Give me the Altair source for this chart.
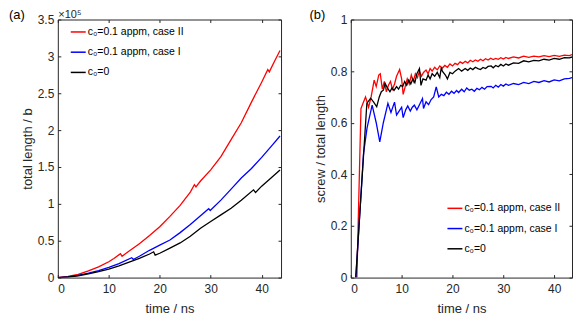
import altair as alt
import pandas as pd

# ---------------- data ----------------
series_names = ["c₀=0.1 appm, case II", "c₀=0.1 appm, case I", "c₀=0"]
series_colors = ["#ff0000", "#0000ff", "#000000"]

# Panel (a): total length / b  (in units of 1e5)
a_red_t = [0, 2, 4, 6, 8, 10, 11, 12.3, 12.6, 14, 16, 18, 20, 22, 24, 26, 26.8, 27.1,
           28, 30, 32, 34, 36, 38, 40, 41.2, 41.5, 42.5, 43.6]
a_red_v = [0, 0.015, 0.045, 0.09, 0.145, 0.215, 0.26, 0.325, 0.29, 0.36, 0.46, 0.57, 0.69,
           0.83, 0.98, 1.16, 1.26, 1.23, 1.31, 1.46, 1.64, 1.87, 2.10, 2.38, 2.65, 2.82,
           2.79, 2.93, 3.08]
a_blue_t = [0, 2, 4, 6, 8, 10, 12, 14.5, 14.8, 16, 18, 20, 22, 24, 26, 28, 29.6, 29.9,
            32, 34, 36, 38, 40, 42, 43.6]
a_blue_v = [0, 0.01, 0.03, 0.06, 0.095, 0.14, 0.19, 0.27, 0.245, 0.29, 0.37, 0.44, 0.51,
            0.61, 0.72, 0.84, 0.935, 0.91, 1.05, 1.20, 1.35, 1.48, 1.63, 1.79, 1.92]
a_black_t = [0, 2, 4, 6, 8, 10, 12, 14, 16, 18, 18.8, 19.1, 20, 22, 24, 26, 28, 30, 32,
             34, 36, 38.4, 38.8, 40, 42, 43.6]
a_black_v = [0, 0.008, 0.025, 0.05, 0.08, 0.115, 0.16, 0.21, 0.26, 0.32, 0.35, 0.305,
             0.33, 0.40, 0.47, 0.56, 0.67, 0.76, 0.85, 0.94, 1.05, 1.19, 1.155, 1.24,
             1.36, 1.46]

# Panel (b): screw / total length
b_red_t = [1.2, 2.0, 2.5, 2.9, 3.5, 4.0, 4.6, 5.0, 5.5, 5.8, 6.2, 6.6, 7.0, 7.4, 7.8, 8.2,
           8.6, 9.0, 9.6, 10.0, 10.3, 10.7, 11.1, 11.5, 11.9, 12.3, 12.7, 13.1, 13.5, 13.9,
           14.3, 14.8, 15.2, 15.6, 16.0, 16.5, 17.0, 17.5, 18.0, 18.5, 19.0, 19.5, 20.0,
           20.5, 21.0, 21.5, 22.0, 22.5, 23.0, 23.5, 24.0, 24.5, 25.0, 25.5, 26.0, 26.5,
           27.0, 27.5, 28.0, 28.5, 29.0, 29.5, 30.0, 30.5, 31.0, 32.0, 33.0, 34.0, 35.0,
           36.0, 37.0, 38.0, 39.0, 40.0, 41.0, 42.0, 43.0, 43.5]
b_red_v = [0.0, 0.655, 0.68, 0.70, 0.66, 0.70, 0.765, 0.74, 0.785, 0.79, 0.73, 0.76, 0.72,
           0.745, 0.76, 0.73, 0.75, 0.78, 0.806, 0.77, 0.71, 0.74, 0.77, 0.75, 0.785, 0.76,
           0.79, 0.775, 0.80, 0.78, 0.795, 0.804, 0.79, 0.81, 0.80, 0.815, 0.805, 0.82,
           0.812, 0.822, 0.815, 0.828, 0.82, 0.83, 0.825, 0.836, 0.83, 0.838, 0.832, 0.842,
           0.836, 0.843, 0.838, 0.846, 0.84, 0.848, 0.843, 0.85, 0.845, 0.849, 0.846, 0.852,
           0.847, 0.853, 0.849, 0.855, 0.851, 0.858, 0.853, 0.858, 0.855, 0.86, 0.856,
           0.861, 0.857, 0.862, 0.86, 0.864]
b_blue_t = [1.0, 2.5, 3.2, 4.2, 5.0, 5.7, 6.4, 7.0, 7.3, 7.9, 8.6, 9.0, 9.5, 10.0, 10.3,
            10.8, 11.2, 11.7, 12.1, 12.5, 13.0, 13.5, 14.1, 14.3, 14.8, 15.3, 15.8, 16.3,
            16.8, 17.3, 17.8, 18.3, 18.8, 19.3, 19.8, 20.3, 20.8, 21.2, 21.8, 22.3, 22.8,
            23.3, 23.8, 24.3, 24.8, 25.3, 25.8, 26.3, 26.8, 27.6, 28.0, 28.5, 29.0, 29.5,
            30.0, 30.5, 31.0, 32.0, 33.0, 34.0, 35.0, 36.0, 37.0, 38.0, 39.0, 40.0, 41.0,
            42.0, 43.0, 43.5]
b_blue_v = [0.0, 0.48, 0.58, 0.668, 0.60, 0.526, 0.60, 0.65, 0.675, 0.64, 0.68, 0.63,
            0.645, 0.66, 0.62, 0.65, 0.665, 0.645, 0.66, 0.668, 0.65, 0.67, 0.694, 0.655,
            0.681, 0.67, 0.69, 0.70, 0.739, 0.70, 0.71, 0.705, 0.718, 0.71, 0.722, 0.714,
            0.725, 0.717, 0.73, 0.72, 0.735, 0.726, 0.73, 0.722, 0.733, 0.728, 0.737, 0.73,
            0.74, 0.741, 0.735, 0.745, 0.738, 0.748, 0.742, 0.75, 0.745, 0.752, 0.748,
            0.756, 0.752, 0.76, 0.756, 0.763, 0.758, 0.766, 0.762, 0.77, 0.772, 0.775]
b_black_t = [0.97, 3.16, 3.9, 4.5, 5.1, 5.6, 6.0, 6.4, 6.75, 7.2, 7.7, 8.1, 8.5, 9.0, 9.4,
             9.8, 10.2, 10.6, 11.0, 11.4, 11.8, 12.2, 12.6, 13.0, 13.5, 13.8, 14.2, 14.8,
             15.2, 15.6, 16.0, 16.5, 17.0, 17.5, 17.8, 18.0, 18.6, 19.0, 19.5, 20.0, 20.5,
             21.2, 21.8, 22.5, 23.0, 23.5, 24.0, 24.5, 25.0, 25.5, 26.0, 26.5, 27.0, 27.6,
             28.0, 28.5, 29.0, 29.5, 30.0, 30.5, 31.0, 32.0, 33.0, 34.0, 35.0, 36.0, 37.0,
             38.0, 39.0, 40.0, 41.0, 42.0, 43.0, 43.5]
b_black_v = [0.0, 0.675, 0.695, 0.68, 0.662, 0.70, 0.72, 0.726, 0.752, 0.735, 0.72, 0.735,
             0.725, 0.74, 0.73, 0.745, 0.74, 0.76, 0.745, 0.765, 0.75, 0.77, 0.755, 0.79,
             0.81, 0.745, 0.77, 0.765, 0.785, 0.77, 0.79, 0.78, 0.795, 0.775, 0.815, 0.80,
             0.785, 0.77, 0.795, 0.79, 0.80, 0.81, 0.80, 0.81, 0.803, 0.812, 0.806, 0.815,
             0.81, 0.806, 0.814, 0.81, 0.818, 0.82, 0.813, 0.822, 0.817, 0.826, 0.82, 0.828,
             0.823, 0.832, 0.83, 0.84, 0.836, 0.842, 0.84, 0.846, 0.843, 0.849, 0.846, 0.852,
             0.851, 0.855]

a_x_ticks = [0, 10, 20, 30, 40]
a_y_ticks = [0, 0.5, 1, 1.5, 2, 2.5, 3, 3.5]
b_x_ticks = [0, 10, 20, 30, 40]
b_y_ticks = [0, 0.2, 0.4, 0.6, 0.8, 1]


def frame(ts, vs, name):
    return pd.DataFrame({"t": ts, "v": vs, "series": name})


df_a = pd.concat([frame(a_red_t, a_red_v, series_names[0]),
                  frame(a_blue_t, a_blue_v, series_names[1]),
                  frame(a_black_t, a_black_v, series_names[2])], ignore_index=True)
df_b = pd.concat([frame(b_red_t, b_red_v, series_names[0]),
                  frame(b_blue_t, b_blue_v, series_names[1]),
                  frame(b_black_t, b_black_v, series_names[2])], ignore_index=True)

FONT = "Liberation Sans"
GRAY = "#262626"
WA, WB, H = 224, 222, 259

AX = dict(domain=False, tickSize=3, offset=-3, tickColor=GRAY, grid=False,
          labelFont=FONT, labelFontSize=12, labelColor=GRAY,
          titleFont=FONT, titleFontSize=13, titleColor=GRAY, titleFontWeight="normal")


def panel(df, W, xdom, ydom, xticks, yticks, ytitle, legend_x, legend_y, tag, extra_texts):
    xs = alt.Scale(domain=xdom, nice=False, zero=False)
    ys = alt.Scale(domain=ydom, nice=False, zero=False)
    lines = alt.Chart(df).mark_line(strokeWidth=1.3, clip=True).encode(
        x=alt.X("t:Q", scale=xs, title="time / ns",
                axis=alt.Axis(orient="bottom", values=xticks, format="d",
                              labelPadding=6, titlePadding=8, **AX)),
        y=alt.Y("v:Q", scale=ys, title=ytitle,
                axis=alt.Axis(orient="left", values=yticks, format="~g",
                              labelPadding=4, titlePadding=3, **AX)),
        color=alt.Color("series:N",
                        scale=alt.Scale(domain=series_names, range=series_colors),
                        legend=alt.Legend(orient="none", legendX=legend_x, legendY=legend_y,
                                          title=None, symbolType="stroke", symbolSize=225,
                                          symbolStrokeWidth=1.5, labelFont=FONT,
                                          labelFontSize=10.5, labelColor="#000000",
                                          labelOffset=1, rowPadding=6.3, padding=0)),
        detail="series:N",
    )
    ticks = alt.Chart(df).mark_line(strokeOpacity=0, clip=True).encode(
        x=alt.X("t:Q", scale=xs, title=None,
                axis=alt.Axis(orient="top", values=xticks, labels=False, **AX)),
        y=alt.Y("v:Q", scale=ys, title=None,
                axis=alt.Axis(orient="right", values=yticks, labels=False, **AX)),
        detail="series:N",
    )
    tag_df = pd.DataFrame({"txt": [tag[0]]})
    tag_layer = alt.Chart(tag_df).mark_text(
        font=FONT, fontSize=13, align="left", baseline="top", color="#000000"
    ).encode(x=alt.value(tag[1]), y=alt.value(tag[2]), text="txt:N")
    layers = [lines, ticks, tag_layer] + extra_texts
    return alt.layer(*layers).resolve_axis(x="independent", y="independent").properties(
        width=W, height=H)


exp_df = pd.DataFrame({"txt": ["×10⁵"]})
exp_layer = alt.Chart(exp_df).mark_text(
    font=FONT, fontSize=11, align="left", baseline="top", color=GRAY
).encode(x=alt.value(0.5), y=alt.value(-10.5), text="txt:N")

chart_a = panel(df_a, WA, [0, 43.8], [0, 3.5], a_x_ticks, a_y_ticks, "total length / b",
                12, 4, ("(a)", -49, -10.3), [exp_layer])
chart_b = panel(df_b, WB, [0, 43.5], [0, 1], b_x_ticks, b_y_ticks, "screw / total length",
                96, 181, ("(b)", -41.5, -10.3), [])

chart = alt.hconcat(chart_a, chart_b, spacing=27).resolve_legend(
    color="independent"
).properties(
    padding={"left": 0, "top": 0, "right": 0, "bottom": 0}
).configure_view(
    stroke=GRAY, strokeWidth=1
)

chart.save("out.html", embed_options={"renderer": "svg", "actions": False})
